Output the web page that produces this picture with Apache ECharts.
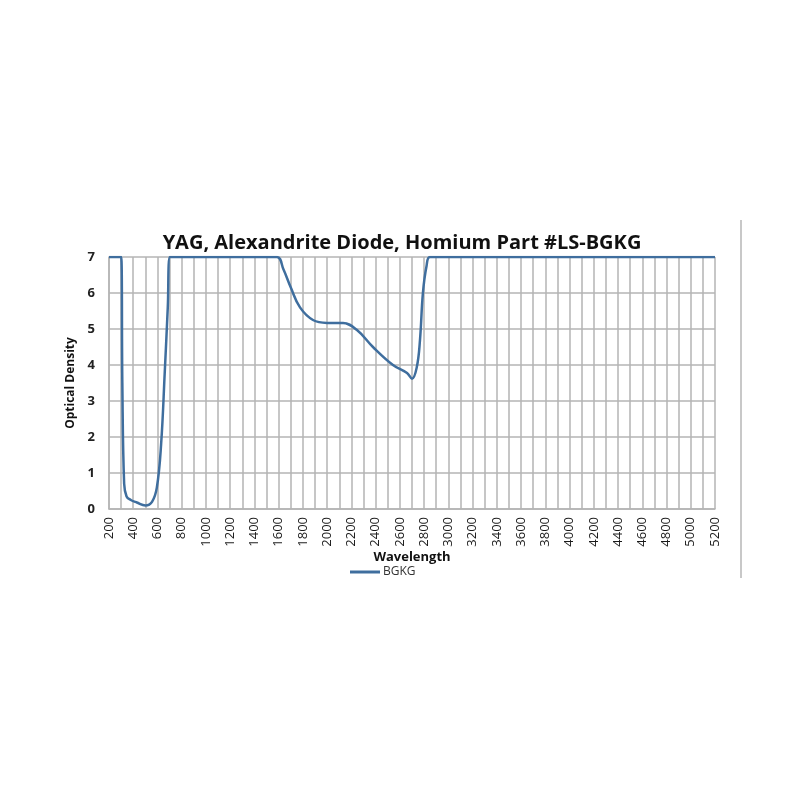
<!DOCTYPE html>
<html>
<head>
<meta charset="utf-8">
<script src="https://cdn.jsdelivr.net/npm/echarts@6/dist/echarts.min.js"></script>
<style>html,body{margin:0;padding:0;background:#fff}#c{width:800px;height:800px}</style>
</head>
<body>
<div id="c"></div>
<script>
const chartTitle = 'YAG, Alexandrite Diode, Homium Part #LS-BGKG';
const seriesName = 'BGKG';
const wavelength = [200, 300, 310, 325, 345, 380, 430, 500, 555, 595, 630, 660, 685, 703, 800, 1000, 1200, 1400, 1586, 1640, 1700, 1776, 1883, 1999, 2131, 2246, 2378, 2543, 2659, 2700, 2740, 2766, 2790, 2820, 2848, 3000, 3500, 4000, 4500, 5000, 5200];
const density    = [7,   7,   3.5, 0.7, 0.35, 0.25, 0.18, 0.1, 0.2,  0.6,  1.8, 3.8, 5.6, 7,   7,   7,    7,    7,    7,    6.65, 6.15, 5.6,  5.25, 5.17, 5.17, 4.97, 4.5,  4.0,  3.78, 3.62, 3.95, 4.7,  6.0,  6.75, 7,    7,    7,    7,    7,    7,    7];

const chart = echarts.init(document.getElementById('c'));
const data = wavelength.map((w, i) => [w, density[i]]);
const gridColor = '#b4b4b4';
chart.setOption({
  animation: false,
  backgroundColor: '#fff',
  title: {
    text: chartTitle, left: 397, top: 228, textAlign: 'center',
    textStyle: { fontFamily: 'Open Sans', fontWeight: 'bold', fontSize: 20, color: '#111' }
  },
  legend: {
    data: [seriesName], left: 345, top: 561, itemWidth: 30, itemHeight: 3, itemGap: 4,
    icon: 'rect',
    textStyle: { fontFamily: 'Open Sans', fontSize: 12, color: '#333', padding: [0, 0, 0, -2] }
  },
  grid: { left: 109, right: 85, top: 257, bottom: 291 },
  xAxis: {
    type: 'value', min: 200, max: 5200, interval: 200,
    name: 'Wavelength', nameLocation: 'middle', nameGap: 38,
    nameTextStyle: { fontFamily: 'Open Sans', fontWeight: 'bold', fontSize: 13, color: '#111' },
    axisLine: { show: true, lineStyle: { color: gridColor, width: 1.5 } },
    axisTick: { show: false },
    axisLabel: { rotate: 90, fontFamily: 'Open Sans', fontSize: 13, color: '#1a1a1a', margin: 8,
      formatter: v => String(v) },
    splitLine: { show: true, lineStyle: { color: gridColor, width: 1.5 } },
    minorTick: { show: false, splitNumber: 2 },
    minorSplitLine: { show: true, lineStyle: { color: gridColor, width: 1.5 } }
  },
  yAxis: {
    type: 'value', min: 0, max: 7, interval: 1,
    name: 'Optical Density', nameLocation: 'middle', nameGap: 30, nameRotate: 90,
    nameTextStyle: { fontFamily: 'Open Sans', fontWeight: 'bold', fontSize: 12, color: '#111' },
    axisLine: { show: true, lineStyle: { color: gridColor, width: 1.5 } },
    axisTick: { show: false },
    axisLabel: { fontFamily: 'Open Sans', fontWeight: 'bold', fontSize: 13, color: '#222', margin: 14 },
    splitLine: { show: true, lineStyle: { color: gridColor, width: 1.5 } }
  },
  series: [{
    name: seriesName, type: 'line', data: data, showSymbol: false,
    smooth: 0.4,
    lineStyle: { color: '#3f6e9e', width: 2.5 },
    itemStyle: { color: '#3f6e9e' }
  }],
  graphic: [{
    type: 'line', shape: { x1: 741, y1: 220, x2: 741, y2: 578 },
    style: { stroke: '#c8c8c8', lineWidth: 2 }
  }]
});
</script>
</body>
</html>
